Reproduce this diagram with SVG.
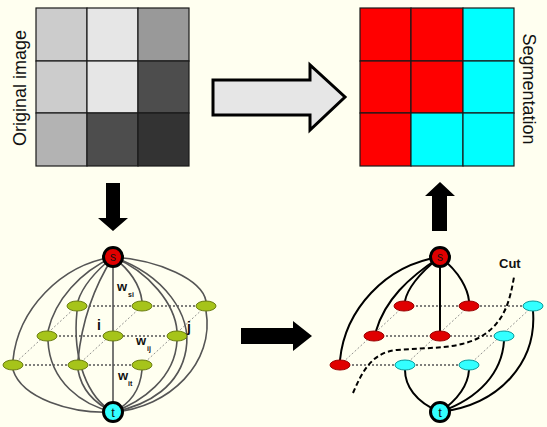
<svg xmlns="http://www.w3.org/2000/svg" width="547" height="427" viewBox="0 0 547 427">
<defs>
<style>
.bg{fill:#fffff0}
.cell{stroke:#1a1a1a;stroke-width:1.2}
.lbl{font-family:"Liberation Sans",Arial,sans-serif;fill:#111}
.blk{fill:#000}
.garc{fill:none;stroke:#555;stroke-width:1.6}
.karc{fill:none;stroke:#000;stroke-width:2}
.hdot{stroke:#555;stroke-width:1.6;stroke-dasharray:2 2;fill:none}
.ddot{stroke:#777;stroke-width:0.8;stroke-dasharray:2 2;fill:none}
.gn{fill:#a6c41a;stroke:#6a7d10;stroke-width:1}
.rn{fill:#e00000;stroke:#900;stroke-width:1}
.cn{fill:#33ffff;stroke:#0a9a9a;stroke-width:1}
.snode{fill:#e00000;stroke:#000;stroke-width:3}
.tnode{fill:#33ffff;stroke:#000;stroke-width:3}
.w{font-family:"Liberation Sans",Arial,sans-serif;font-weight:bold;fill:#111}
</style>
</defs>
<rect class="bg" x="0" y="0" width="547" height="427"/>

<g id="original-image">
<rect class="cell" x="36" y="8" width="51" height="53" fill="#cccccc"/>
<rect class="cell" x="87" y="8" width="51" height="53" fill="#e6e6e6"/>
<rect class="cell" x="138" y="8" width="51" height="53" fill="#999999"/>
<rect class="cell" x="36" y="61" width="51" height="52" fill="#cccccc"/>
<rect class="cell" x="87" y="61" width="51" height="52" fill="#e6e6e6"/>
<rect class="cell" x="138" y="61" width="51" height="52" fill="#4d4d4d"/>
<rect class="cell" x="36" y="113" width="51" height="53" fill="#b3b3b3"/>
<rect class="cell" x="87" y="113" width="51" height="53" fill="#4d4d4d"/>
<rect class="cell" x="138" y="113" width="51" height="53" fill="#333333"/>
<text class="lbl" font-size="18" text-anchor="middle" transform="translate(26,88) rotate(-90)">Original image</text>
</g>

<g id="segmentation">
<rect class="cell" x="360" y="8" width="51" height="53" fill="#ff0000"/>
<rect class="cell" x="411" y="8" width="52" height="53" fill="#ff0000"/>
<rect class="cell" x="463" y="8" width="51" height="53" fill="#00ffff"/>
<rect class="cell" x="360" y="61" width="51" height="52" fill="#ff0000"/>
<rect class="cell" x="411" y="61" width="52" height="52" fill="#ff0000"/>
<rect class="cell" x="463" y="61" width="51" height="52" fill="#00ffff"/>
<rect class="cell" x="360" y="113" width="51" height="53" fill="#ff0000"/>
<rect class="cell" x="411" y="113" width="52" height="53" fill="#00ffff"/>
<rect class="cell" x="463" y="113" width="51" height="53" fill="#00ffff"/>
<text class="lbl" font-size="18" text-anchor="middle" transform="translate(523,89) rotate(90)">Segmentation</text>
</g>

<g id="arrows">
<polygon points="213,80 310,80 310,65 345,97 310,130 310,115 213,115" fill="#e6e6e6" stroke="#000" stroke-width="3" stroke-linejoin="miter"/>
<polygon class="blk" points="106,183 120,183 120,218 128,218 113,231 98,218 106,218"/>
<polygon class="blk" points="241,328 293,328 293,321 312,336 293,351 293,344 241,344"/>
<polygon class="blk" points="432,231 432,196 425,196 440,182 455,196 447,196 447,231"/>
</g>

<g id="connectors-left">
<path class="hdot" d="M77,306 L206,306 M47,336 L177,336 M13,365 L142,365"/>
<path class="ddot" d="M13,365 L77,306 M78,365 L142,306 M142,365 L206,306"/>
<line class="garc" x1="113" y1="257" x2="113" y2="412"/>
<path class="garc" d="M113,257 C60,265 18,310 13,360"/>
<path class="garc" d="M113,257 C80,272 55,300 48,331"/>
<path class="garc" d="M113,257 C97,270 83,285 78,301"/>
<path class="garc" d="M113,257 C95,285 82,320 78,360"/>
<path class="garc" d="M113,257 C130,270 140,285 142,301"/>
<path class="garc" d="M113,257 C150,272 175,305 177,331"/>
<path class="garc" d="M113,257 C160,260 202,280 206,301"/>
<path class="garc" d="M113,257 C165,275 192,315 186,350 C180,385 150,405 113,412"/>
<path class="garc" d="M13,370 C22,398 70,414 113,412"/>
<path class="garc" d="M48,341 C50,382 82,405 113,412"/>
<path class="garc" d="M77,311 C72,360 88,398 113,412"/>
<path class="garc" d="M78,370 C82,392 98,405 113,412"/>
<path class="garc" d="M177,341 C175,378 142,402 113,412"/>
<path class="garc" d="M142,370 C140,392 128,405 113,412"/>
<path class="garc" d="M206,311 C215,362 170,408 113,412"/>
</g>

<g id="left-nodes">
<ellipse class="gn" cx="77" cy="306" rx="10" ry="5"/>
<ellipse class="gn" cx="142" cy="306" rx="10" ry="5"/>
<ellipse class="gn" cx="206" cy="306" rx="10" ry="5"/>
<ellipse class="gn" cx="47" cy="336" rx="10" ry="5"/>
<ellipse class="gn" cx="113" cy="336" rx="10" ry="5"/>
<ellipse class="gn" cx="177" cy="336" rx="10" ry="5"/>
<ellipse class="gn" cx="13" cy="365" rx="10" ry="5"/>
<ellipse class="gn" cx="78" cy="365" rx="10" ry="5"/>
<ellipse class="gn" cx="142" cy="365" rx="10" ry="5"/>
</g>
<g id="left-s">
<circle class="snode" cx="113" cy="257" r="9.5"/>
<text class="lbl" x="113" y="261" font-size="12" text-anchor="middle" fill="#500">s</text>
</g>
<g id="left-t">
<circle class="tnode" cx="113" cy="412" r="9.5"/>
<text class="lbl" x="113" y="417" font-size="13" text-anchor="middle">t</text>
</g>
<g id="left-labels">
<text class="w" x="117" y="291" font-size="13">w</text>
<text class="w" x="128" y="297" font-size="7">si</text>
<text class="w" x="136" y="345" font-size="13">w</text>
<text class="w" x="147" y="351" font-size="7">ij</text>
<text class="w" x="118" y="380" font-size="13">w</text>
<text class="w" x="128" y="386" font-size="7">it</text>
<text class="w" x="97" y="330" font-size="14">i</text>
<text class="w" x="187" y="332" font-size="14">j</text>
</g>

<g id="connectors-right">
<path class="hdot" d="M404,306 L533,306 M374,336 L504,336 M340,365 L469,365"/>
<path class="ddot" d="M340,365 L404,306 M405,365 L469,306 M469,365 L533,306"/>
<line class="karc" x1="440" y1="257" x2="440" y2="331"/>
<path class="karc" d="M440,257 C385,265 345,310 340,360"/>
<path class="karc" d="M440,257 C408,278 385,300 376,331"/>
<path class="karc" d="M440,257 C418,274 407,290 405,301"/>
<path class="karc" d="M440,257 C460,272 468,290 469,301"/>
<path class="karc" d="M440,412 C415,402 405,385 405,370"/>
<path class="karc" d="M440,412 C460,398 468,385 469,370"/>
<path class="karc" d="M440,412 C480,398 502,372 504,341"/>
<path class="karc" d="M440,412 C500,405 537,362 533,311"/>
<path d="M353,393 C362,372 372,352 397,350 C430,347 462,350 485,334 C505,320 510,300 514,277" fill="none" stroke="#000" stroke-width="2" stroke-dasharray="5 3"/>
<text class="w" x="499" y="268" font-size="13">Cut</text>
</g>

<g id="right-nodes">
<ellipse class="rn" cx="404" cy="306" rx="10" ry="5"/>
<ellipse class="rn" cx="469" cy="306" rx="10" ry="5"/>
<ellipse class="cn" cx="533" cy="306" rx="10" ry="5"/>
<ellipse class="rn" cx="374" cy="336" rx="10" ry="5"/>
<ellipse class="rn" cx="440" cy="336" rx="10" ry="5"/>
<ellipse class="cn" cx="504" cy="336" rx="10" ry="5"/>
<ellipse class="rn" cx="340" cy="365" rx="10" ry="5"/>
<ellipse class="cn" cx="405" cy="365" rx="10" ry="5"/>
<ellipse class="cn" cx="469" cy="365" rx="10" ry="5"/>
</g>
<g id="right-s">
<circle class="snode" cx="440" cy="257" r="9.5"/>
<text class="lbl" x="440" y="261" font-size="12" text-anchor="middle" fill="#500">s</text>
</g>
<g id="right-t">
<circle class="tnode" cx="440" cy="412" r="9.5"/>
<text class="lbl" x="440" y="417" font-size="13" text-anchor="middle">t</text>
</g>
</svg>
